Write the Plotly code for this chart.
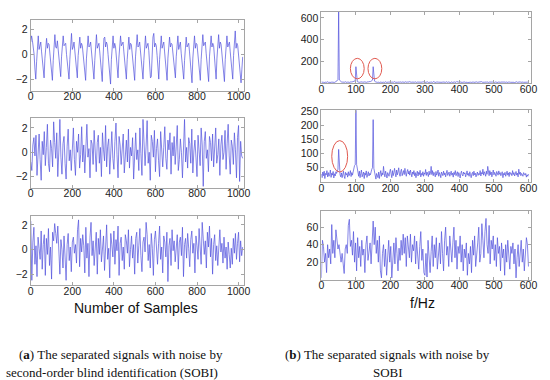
import numpy as np
import plotly.graph_objects as go

# ---------------- data ----------------
# time signals (every 4th / 5th sample)
sig1_step = 4
sig1 = [1.0, 1.5, 1.1, 0.6, 0.0, -1.2, -2.0,
        -0.6, 0.9, 1.5, 0.4, 0.7, 1.0, 0.2, -0.4, -1.3, -1.9,
        -0.3, 1.1, 1.3, 0.5, 0.9, 0.8, 0.1, -0.6, -1.6, -2.1,
        -0.5, 1.0, 1.6, 0.6, 0.5, 1.1, 0.3, -0.3, -1.2, -1.8,
        -0.2, 1.2, 1.5, 0.7, 0.8, 0.9, 0.0, -0.7, -1.5, -2.0,
        -0.4, 1.3, 1.7, 0.4, 0.6, 1.0, 0.2, -0.5, -1.4,
        -1.9, -0.1, 1.1, 1.4, 0.5, 0.9, 0.7, -0.1, -0.8, -1.7,
        -2.1, -0.3, 1.2, 1.5, 0.6, 0.7, 1.0, 0.1, -0.6, -1.6,
        -2.0, -0.5, 1.0, 1.6, 0.5, 0.8, 0.9, 0.2, -0.7, -1.8,
        -2.2, -0.2, 1.3, 1.4, 0.6, 1.0, 0.8, 0.0, -0.9,
        -1.9, -2.4, -0.4, 1.1, 1.5, 0.5, 0.9, 0.6, -0.2, -1.1,
        -1.9, -0.3, 1.2, 1.5, 0.7, 0.8, 1.0, 0.2, -0.6, -1.7,
        -2.0, -0.4, 1.1, 1.4, 0.4, 0.9, 0.8, 0.0, -0.8, -1.8,
        -2.1, -0.2, 1.3, 1.6, 0.6, 0.7, 1.0, 0.1, -0.5, -1.5,
        -2.0, -0.5, 1.0, 1.5, 0.5, 0.8, 0.9, 0.3, -0.7, -1.9,
        -1.8, -0.1, 1.4, 1.7, 0.6, 0.9, 0.7, -0.1, -0.9,
        -2.0, -0.4, 1.2, 1.5, 0.5, 0.8, 1.0, 0.2, -0.6, -1.6,
        -2.1, -0.3, 1.1, 1.4, 0.6, 0.9, 0.8, 0.0, -0.8, -1.8,
        -1.9, -0.2, 1.3, 1.5, 0.4, 0.7, 1.0, 0.1, -0.7, -1.7,
        -2.0, -0.5, 1.0, 1.4, 0.6, 0.8, 0.9, 0.2, -0.5, -1.6,
        -2.3, -0.3, 1.2, 1.5, 0.5, 0.9, 0.8, -0.1, -0.9, -1.9,
        -2.1, -0.4, 1.1, 1.6, 0.7, 0.8, 1.0, 0.1, -0.6,
        -1.7, -2.2, -0.2, 1.3, 1.5, 0.6, 0.9, 0.7, 0.0, -1.0,
        -2.0, -0.3, 1.2, 1.6, 0.5, 1.0, 0.8, 0.1, -0.7, -1.8,
        -2.2, -0.4, 1.1, 1.5, 0.6, 0.8, 1.0, 0.2, -0.6, -1.7,
        -2.0, -0.1, 1.3, 1.9, 0.5, 0.9, 0.7, 0.0, -0.8, -1.6,
        -2.3, -1.2, -0.2]

sig_step = 5
sig2 = [-0.8, -1.5, 0.6, 1.2, -0.3, 1.4, -1.9, 0.2, 1.5, -0.6,
        -2.3, 0.9, -0.2, 1.7, -1.1, 0.4, 2.3, -0.9, -1.6, 1.0,
        0.3, -1.2, 2.5, 0.8, -0.5, 1.6, -2.0, 0.1, 2.7, -0.4,
        -1.8, 0.7, 1.3, -0.9, -2.2, 0.5, 1.9, -0.7, 0.2, -1.5,
        1.1, 2.0, -0.6, -1.9, 0.9, 0.0, 1.5, -1.3, -0.2, 2.1,
        -0.8, 0.6, -1.7, 1.2, 2.3, -0.4, 0.3, -2.1, 1.0, 0.7,
        -1.0, 1.8, -0.3, -1.6, 0.8, 1.4, -0.9, 0.4, -2.0, 1.6,
        0.2, -0.7, 2.2, -1.2, 0.5, 1.1, -1.8, 0.0, 1.7, -0.5,
        -1.4, 0.9, 2.4, -0.2, -2.1, 1.3, 0.6, -1.0, 0.3, 1.5,
        -1.7, 0.1, 1.0, -0.8, 1.9, -1.3, 0.4, -0.3, 1.2, -2.2,
        0.7, 1.6, -0.6, 0.2, -1.5, 2.0, -0.1, -1.9, 2.7, 1.3,
        -1.1, 0.5, 2.6, -0.9, 0.0, -2.3, 1.4, 0.9, -0.4, 1.8,
        -1.6, 0.3, 1.1, -0.7, -2.0, 1.7, 0.6, -1.2, 0.4, 2.1,
        -0.5, -1.4, 1.0, 0.2, 1.6, -1.8, 0.8, -0.3, 1.3, -1.0,
        0.5, 2.2, -1.5, -0.6, 1.1, 0.0, -2.1, 1.5, 2.7, -0.8,
        0.4, -1.3, 1.2, 0.7, -0.9, 1.9, -1.7, 0.1, 1.0, -0.4,
        -2.0, 1.4, 0.3, -1.1, 2.0, 0.6, -2.8, 0.9, 1.7, -0.5,
        0.2, -1.6, 1.3, 0.8, -0.7, 1.5, -1.2, 0.4, 2.0, -0.9,
        -0.2, 1.1, -1.9, 0.6, 1.4, -0.6, 0.0, 1.8, -1.4, 0.7,
        2.3, -0.3, -1.8, 1.0, 0.5, -1.0, 1.6, 0.2, -2.1, 1.2,
        2.2, -2.4, 0.9, -0.3, -0.5]

sig3 = [2.3, -2.5, 0.6, 1.8, -1.2, 0.3, -2.2, 1.0, 0.1, -0.8,
        1.5, -1.6, 0.4, 1.2, -2.1, 0.9, -0.4, 1.7, -1.3, 0.2,
        -2.4, 1.4, 0.7, 2.1, 1.3, 0.5, 1.9, -1.0, -2.0, 0.8,
        0.0, -1.5, 1.1, -0.6, -2.5, 0.4, 1.3, -0.9, 0.2, -1.8,
        0.6, 1.0, -0.3, 0.4, -1.1, 1.6, 2.4, -1.4, 0.9, -0.2,
        1.2, 0.3, -1.9, 1.8, -0.7, 0.5, -2.2, 1.0, 2.2, -0.5,
        0.7, -1.3, 0.2, 1.4, -2.0, 0.9, -0.4, 1.6, -1.0, 0.3,
        1.1, -1.7, 0.6, 2.0, -0.8, 0.1, -2.3, 1.3, 0.4, -0.6,
        1.5, -1.2, 0.8, -0.1, 1.9, -2.1, 0.5, 1.0, -0.9, 0.2,
        -1.6, 1.2, 0.7, -0.3, 1.6, -1.4, 0.0, 1.1, -0.7, 0.4,
        -2.0, 0.9, 1.4, -1.1, 0.3, 1.7, -0.5, -1.8, 0.6, 1.0,
        -0.2, 2.2, 1.2, -0.9, 0.4, -1.5, 1.3, 0.1, -2.1, 0.8,
        1.5, -0.4, -1.2, 0.5, 1.9, -0.8, 0.2, -1.9, 1.1, 0.6,
        -0.6, 1.4, -2.6, 0.3, 0.9, -1.3, 1.6, -0.1, 0.7, -1.0,
        0.2, 1.2, -1.6, 0.6, 1.0, -0.5, 1.8, -2.2, 0.4, 0.9,
        -0.7, 1.3, 0.1, -1.4, 0.8, 1.5, -0.3, 0.5, -1.9, 1.1,
        0.3, -0.8, 1.7, 0.6, -1.2, 2.2, 1.0, -0.4, 0.7, -1.5,
        1.4, 0.2, 1.9, -0.6, 0.9, -2.0, 0.4, 1.2, -0.9, 0.3,
        -1.3, 0.8, 1.6, -0.2, 0.5, -1.1, 1.0, -0.7, 0.2, -1.6,
        0.6, -0.4, -1.5, 0.1, -1.2, 0.9, -0.3, 1.3, -0.8, 0.5,
        1.4, -1.0, 0.7, -0.5, 0.2]

# spectra
spec_step = 2
spec1 = [8, 5, 9, 6, 4, 10, 7, 5, 8, 11, 6, 4, 9, 7, 5, 8, 6, 10, 7, 5,
         9, 12, 16, 22, 30, 660, 28, 20, 14, 10,
         8, 6, 9, 5, 7, 11, 6, 4, 8, 10, 7, 5, 9, 12, 8,
         10, 7, 12, 15, 20, 150, 18, 13, 9, 7,
         8, 5, 10, 6, 9, 7, 4, 8, 11, 6, 5, 9, 7, 10, 12,
         9, 13, 16, 20, 26, 150, 24, 17, 12, 9,
         7, 5, 9, 6, 4, 8, 10, 6, 5, 8, 7, 4, 9, 11, 6, 5, 8, 7, 10, 6,
         4, 7, 9, 5, 8, 6, 12, 7, 5, 9, 6, 8, 4, 7, 10, 5, 6, 9, 7, 4,
         8, 6, 11, 7, 5, 9, 6, 8, 13, 7, 5, 8, 6, 4, 9, 7, 10, 6, 5, 8,
         7, 9, 5, 6, 8, 4, 7, 11, 6, 9, 5, 7, 8, 6, 10, 5, 4, 8, 7, 9,
         6, 5, 12, 8, 6, 7, 4, 9, 5, 8, 7, 6, 10, 5, 8, 6, 9, 7, 4, 8,
         6, 11, 7, 5, 9, 6, 8, 4, 7, 10, 5, 8, 6, 9, 7, 5, 13, 6, 8, 7,
         4, 9, 6, 8, 5, 7, 10, 6, 9, 5, 8, 7, 4, 6, 9, 11, 7, 5, 8, 6,
         9, 5, 7, 8, 4, 10, 6, 7, 9, 5, 8, 6, 12, 7, 5, 9, 6, 8, 4, 7,
         10, 6, 5, 8, 7, 9, 6, 4, 8, 11, 7, 5, 9, 6, 8, 7, 4, 10, 6, 5,
         8, 9, 6, 7, 5, 12, 8, 6, 9, 4, 7, 8, 5, 10, 6, 7, 9, 5, 8, 6,
         4, 9, 7, 11, 6, 8, 5, 7, 10, 6, 9, 5, 8, 6, 7, 4, 9, 8, 6, 7, 5]

spec2 = [28, 15, 35, 22, 38, 12, 30, 25, 40, 18, 33, 20, 27, 42, 16, 31, 24, 37, 14, 29, 21, 36,
         30, 38, 45, 115, 40, 26, 18,
         32, 15, 27, 38, 20, 12, 34, 25, 30, 17, 36, 22, 28, 40, 19, 33, 24, 38,
         45, 58, 60, 260, 62, 48, 35,
         20, 38, 15, 30, 42, 18, 27, 35, 12, 32, 24, 39, 16, 28, 36, 21, 30, 25, 40,
         45, 50, 220, 48, 35,
         18, 10, 30, 22, 15, 35, 12, 28, 40, 20, 32, 25, 55, 30, 18, 38, 24, 14, 33, 27,
         20, 36, 45, 28, 15, 40, 22, 33, 48, 30, 18, 42, 25, 35, 50, 28, 20, 38, 45, 22,
         30, 40, 26, 48, 32, 20, 36, 44, 28, 38, 24, 42, 30, 18, 35, 27, 40, 22, 33, 15,
         29, 38, 21, 34, 26, 41, 18, 30, 24, 36, 20, 32, 27, 44, 23, 35, 28, 19, 38, 25,
         31, 55, 26, 40, 22, 34, 29, 18, 37, 24, 30, 42, 20, 33, 26, 15, 35, 28, 22, 38,
         25, 32, 18, 30, 41, 23, 28, 35, 20, 27, 38, 24, 31, 17, 34, 26, 40, 22, 29, 36,
         19, 33, 27, 14, 30, 38, 25, 21, 35, 28, 32, 18, 27, 39, 24, 30, 20, 36, 26, 15,
         29, 34, 22, 38, 25, 31, 18, 28, 35, 23, 30, 26, 40, 21, 33, 28, 45, 24, 36, 30,
         20, 38, 27, 55, 32, 22, 40, 26, 35, 18, 30, 42, 25, 34, 28, 20, 37, 31, 24, 39,
         27, 33, 22, 29, 36, 15, 30, 25, 34, 20, 28, 38, 24, 32, 19, 35, 27, 30, 22, 40,
         26, 33, 21, 29, 37, 24, 31, 18, 45, 27, 35, 22, 30, 26, 20, 33, 28, 24, 30, 17,
         25, 20, 28]

spec3_step = 3
spec3 = [2, 45, 38, 20, 30, 8, 40, 25, 35, 18,
         63, 30, 45, 25, 57, 48, 35, 40, 26, 20,
         30, 15, 7, 35, 40, 30, 62, 69, 38, 45,
         28, 55, 20, 42, 10, 48, 25, 38, 15, 45,
         28, 35, 8, 40, 50, 22, 32, 42, 18, 50,
         67, 40, 60, 30, 45, 20, 50, 10, 2, 30,
         40, 15, 35, 5, 28, 45, 20, 38, 2, 25,
         42, 18, 48, 30, 10, 36, 22, 45, 28, 52,
         30, 48, 15, 50, 38, 25, 52, 20, 40, 33,
         50, 18, 44, 28, 12, 38, 55, 22, 35, 8,
         5, 30, 3, 45, 20, 8, 32, 50, 15, 40,
         25, 48, 12, 35, 42, 18, 55, 30, 10, 45,
         60, 28, 38, 15, 50, 35, 20, 42, 60, 25,
         45, 12, 38, 30, 50, 20, 40, 10, 35, 25,
         42, 5, 30, 18, 38, 8, 45, 28, 50, 15,
         35, 42, 60, 20, 30, 64, 45, 25, 55, 70,
         40, 30, 62, 18, 45, 35, 50, 22, 40, 15,
         48, 30, 38, 10, 42, 25, 35, 5, 40, 20,
         45, 28, 12, 38, 30, 42, 18, 35, 2, 25,
         40, 15, 30, 45, 20, 35, 10, 38, 48, 40,
         15]

left_xticks = [0, 200, 400, 600, 800, 1000]
right_xticks = [0, 100, 200, 300, 400, 500, 600]
sig_yticks = [-2, 0, 2]
spec1_yticks = [200, 400, 600]
spec2_yticks = [50, 100, 150, 200, 250]
spec3_yticks = [20, 40, 60]

# ---------------- figure ----------------
W, H = 550, 380
LINE = dict(color="rgb(80,80,220)", width=0.7)
FRAME = "rgb(165,165,165)"
TICKFONT = dict(family="Liberation Sans, Arial, sans-serif", size=10.5, color="#222")

fig = go.Figure()

def px_x(a, b):
    return [a / W, b / W]

def px_y(top, bottom):
    return [1 - bottom / H, 1 - top / H]

panels = [
    (np.arange(len(sig1)) * sig1_step, sig1, px_x(28.3, 245), px_y(15, 87), [0, 1024], [-2.95, 2.8], left_xticks, sig_yticks),
    (np.arange(len(sig2)) * sig_step, sig2, px_x(28.3, 245), px_y(114.7, 185), [0, 1024], [-2.9, 2.8], left_xticks, sig_yticks),
    (np.arange(len(sig3)) * sig_step, sig3, px_x(28.3, 245), px_y(214, 284), [0, 1024], [-2.9, 2.7], left_xticks, sig_yticks),
    (np.arange(len(spec1)) * spec_step, spec1, px_x(324.3, 537.3), px_y(7, 79), [0, 606], [0, 655], right_xticks, spec1_yticks),
    (np.arange(len(spec2)) * spec_step, spec2, px_x(324.3, 537.3), px_y(106.7, 179.3), [0, 606], [0, 253], right_xticks, spec2_yticks),
    (np.arange(len(spec3)) * spec3_step, spec3, px_x(324.3, 537.3), px_y(208.3, 278.3), [0, 606], [0, 79], right_xticks, spec3_yticks),
]

for i, (x, y, xd, yd, xr, yr, xt, yt) in enumerate(panels, start=1):
    sfx = "" if i == 1 else str(i)
    fig.add_trace(go.Scatter(x=x, y=y, mode="lines", line=LINE,
                             xaxis="x" + sfx, yaxis="y" + sfx,
                             showlegend=False, hoverinfo="skip"))
    common = dict(showline=True, linecolor=FRAME, linewidth=1, mirror="ticks",
                  ticks="inside", ticklen=3, tickcolor=FRAME, showgrid=False,
                  zeroline=False, tickfont=TICKFONT)
    fig.layout["xaxis" + sfx] = dict(domain=xd, range=xr, tickvals=xt,
                                     anchor="y" + sfx, ticklabelstandoff=-4, **common)
    fig.layout["yaxis" + sfx] = dict(domain=yd, range=yr, tickvals=yt,
                                     anchor="x" + sfx, **common)

# red ellipses
ell = dict(type="circle", line=dict(color="rgb(225,90,80)", width=1))
fig.add_shape(x0=84, x1=124, y0=38, y1=227, xref="x4", yref="y4", **ell)
fig.add_shape(x0=135, x1=175, y0=38, y1=227, xref="x4", yref="y4", **ell)
fig.add_shape(x0=30, x1=76, y0=35, y1=146, xref="x5", yref="y5", **ell)

# axis titles
ann_font = dict(family="Liberation Sans, Arial, sans-serif", size=14, color="#111")
fig.add_annotation(text="Number of Samples", x=135 / W, y=1 - 307 / H, xref="paper", yref="paper",
                   showarrow=False, font=ann_font, xanchor="center", yanchor="middle")
fig.add_annotation(text="f/Hz", x=427 / W, y=1 - 302 / H, xref="paper", yref="paper",
                   showarrow=False, font=ann_font, xanchor="center", yanchor="middle")

# captions
cap_font = dict(family="Liberation Serif, Times New Roman, serif", size=13, color="#111")
captions = [
    ("(<b>a</b>) The separated signals with noise by", 120, 354),
    ("second-order blind identification (SOBI)", 111, 372),
    ("(<b>b</b>) The separated signals with noise by", 392, 354),
    ("SOBI", 392, 372),
]
for txt, cx, cy in captions:
    fig.add_annotation(text=txt, x=cx / W, y=1 - cy / H, xref="paper", yref="paper",
                       showarrow=False, font=cap_font, xanchor="center", yanchor="middle")

fig.update_layout(width=W, height=H, margin=dict(l=0, r=0, t=0, b=0),
                  paper_bgcolor="white", plot_bgcolor="white")

fig.write_html("out.html", config={"displayModeBar": False},
               post_script="document.body.style.margin='0';document.body.style.overflow='hidden';")
